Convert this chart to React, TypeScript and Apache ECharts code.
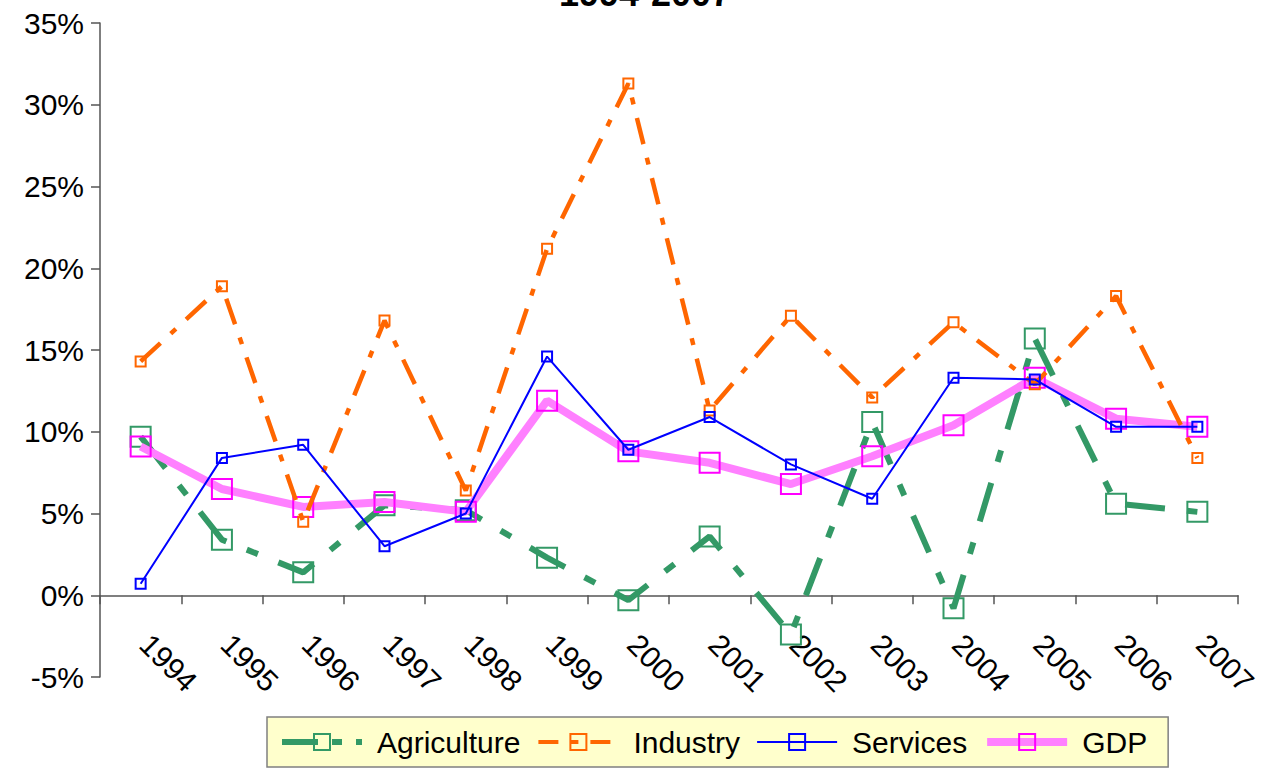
import React, { useEffect, useRef } from "react";
import * as echarts from "echarts";

const years = ["1994", "1995", "1996", "1997", "1998", "1999", "2000", "2001", "2002", "2003", "2004", "2005", "2006", "2007"];
const agriculture = [9.7, 3.4, 1.4, 5.5, 5.2, 2.3, -0.3, 3.6, -2.4, 10.6, -0.8, 15.7, 5.6, 5.1];
const industry = [14.3, 18.9, 4.5, 16.8, 6.4, 21.2, 31.3, 11.3, 17.1, 12.1, 16.7, 12.9, 18.3, 8.4];
const services = [0.7, 8.4, 9.2, 3.0, 5.0, 14.6, 8.9, 10.9, 8.0, 5.9, 13.3, 13.2, 10.3, 10.3];
const gdp = [9.1, 6.5, 5.4, 5.7, 5.1, 11.9, 8.8, 8.1, 6.8, 8.5, 10.4, 13.3, 10.8, 10.3];
const titleText = "1994-2007";

const FONT = "'Liberation Sans', Arial, sans-serif";

const AGR_DASH = [40, 22, 12, 22];
const IND_DASH = [27, 14, 7, 14];

export default function App() {
  const ref = useRef<HTMLDivElement>(null);
  useEffect(() => {
    if (!ref.current) return;
    const chart = echarts.init(ref.current, null, { renderer: "svg" });
    const hollow = "rgba(0,0,0,0)";
    chart.setOption({
      animation: false,
      backgroundColor: "#ffffff",
      textStyle: { fontFamily: FONT },
      graphic: [
        {
          type: "text",
          x: 645,
          y: 11,
          style: {
            text: titleText,
            font: `bold 36px ${FONT}`,
            fill: "#000",
            textAlign: "center",
            textVerticalAlign: "bottom",
          },
        },
      ],
      legend: {
        left: 267,
        top: 717,
        padding: [10, 21, 10, 12],
        backgroundColor: "#FFFFCC",
        borderColor: "#808080",
        borderWidth: 1.5,
        itemWidth: 80,
        itemHeight: 20,
        itemGap: 16,
        textStyle: { fontSize: 30, color: "#000", fontFamily: FONT, padding: [0, 0, 0, 10] },
        data: [
          { name: "Agriculture", lineStyle: { color: "#339966", width: 6, type: [36, 14, 10, 14] } },
          { name: "Industry", lineStyle: { color: "#FF6600", width: 4, type: [20, 12, 8, 12] } },
          { name: "Services", lineStyle: { color: "#0000FF", width: 2 } },
          { name: "GDP", lineStyle: { color: "#FF80FF", width: 8 } },
        ],
      },
      grid: { left: 100, right: 30, top: 23, bottom: 96, containLabel: false },
      xAxis: {
        type: "category",
        data: years,
        boundaryGap: true,
        axisLine: { onZero: true, lineStyle: { color: "#555", width: 1.5 } },
        axisTick: { show: true, interval: 0, length: 9, lineStyle: { color: "#555", width: 1.5 } },
        axisLabel: {
          interval: 0,
          rotate: -45,
          margin: -42,
          padding: [0, 0, 0, 6],
          fontSize: 30,
          color: "#000",
          fontFamily: FONT,
        },
        splitLine: { show: false },
      },
      yAxis: {
        type: "value",
        min: -5,
        max: 35,
        interval: 5,
        axisLine: { show: true, lineStyle: { color: "#555", width: 1.5 } },
        axisTick: { show: true, length: 9, lineStyle: { color: "#555", width: 1.5 } },
        axisLabel: { formatter: "{value}%", fontSize: 30, color: "#000", margin: 16, fontFamily: FONT },
        splitLine: { show: false },
      },
      series: [
        {
          name: "Agriculture",
          type: "line",
          data: agriculture,
          z: 2,
          symbol: "rect",
          symbolSize: 20,
          lineStyle: { color: "#339966", width: 6, type: AGR_DASH },
          itemStyle: { color: hollow, borderColor: "#339966", borderWidth: 2 },
        },
        {
          name: "GDP",
          type: "line",
          data: gdp,
          z: 3,
          symbol: "rect",
          symbolSize: 20,
          lineStyle: { color: "#FF80FF", width: 8 },
          itemStyle: { color: hollow, borderColor: "#FF00FF", borderWidth: 2 },
        },
        {
          name: "Industry",
          type: "line",
          data: industry,
          z: 4,
          symbol: "rect",
          symbolSize: 10,
          lineStyle: { color: "#FF6600", width: 4.5, type: IND_DASH },
          itemStyle: { color: hollow, borderColor: "#FF6600", borderWidth: 2 },
        },
        {
          name: "Services",
          type: "line",
          data: services,
          z: 5,
          symbol: "rect",
          symbolSize: 10,
          lineStyle: { color: "#0000FF", width: 2 },
          itemStyle: { color: hollow, borderColor: "#0000FF", borderWidth: 2 },
        },
      ],
    });
    return () => chart.dispose();
  }, []);
  return (
    <div
      ref={ref}
      style={{ position: "fixed", left: 0, top: 0, width: 1268, height: 773 }}
    />
  );
}
